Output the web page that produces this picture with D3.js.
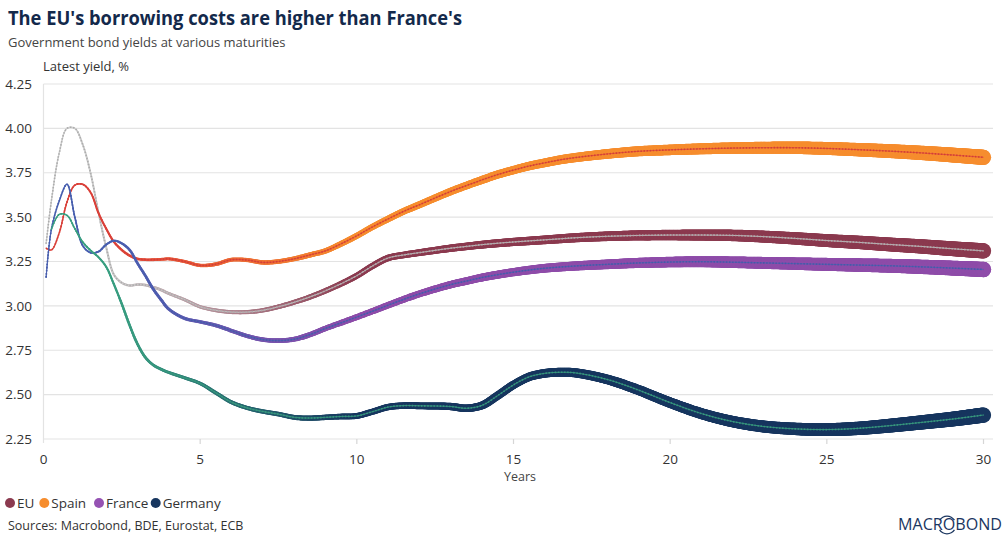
<!DOCTYPE html>
<html><head><meta charset="utf-8">
<script src="https://cdn.jsdelivr.net/npm/d3@7"></script>
<style>body{margin:0;background:#fff;} svg{display:block;font-family:"Open Sans",sans-serif;}</style>
</head><body><svg id="c" width="1008" height="542"></svg>
<script>
const maturities = [0.083,0.25,0.5,0.75,1,1.25,1.5,1.75,2,2.25,2.5,2.75,3,3.25,3.5,3.75,4,4.5,5,5.5,6,6.5,7,7.5,8,8.5,9,9.5,10,10.5,11,11.5,12,13,13.5,14,14.5,15,15.5,16,16.5,17,18,19,20,21,22,23,24,25,26,27,28,29,30];
const euYields = [3.35,3.59,3.86,4.00,4.00,3.91,3.75,3.53,3.33,3.175,3.13,3.115,3.12,3.117,3.105,3.09,3.07,3.035,2.995,2.975,2.965,2.965,2.975,2.995,3.02,3.05,3.085,3.125,3.17,3.225,3.27,3.287,3.30,3.325,3.335,3.345,3.353,3.36,3.366,3.372,3.378,3.384,3.392,3.397,3.399,3.399,3.397,3.39,3.38,3.368,3.358,3.346,3.335,3.322,3.31];
const spainYields = [3.325,3.315,3.41,3.585,3.68,3.685,3.64,3.525,3.435,3.36,3.315,3.283,3.265,3.26,3.26,3.262,3.265,3.25,3.228,3.235,3.26,3.258,3.245,3.25,3.265,3.287,3.31,3.35,3.395,3.445,3.49,3.533,3.57,3.645,3.678,3.71,3.74,3.765,3.788,3.806,3.823,3.836,3.856,3.871,3.879,3.885,3.889,3.891,3.891,3.887,3.88,3.872,3.862,3.85,3.837];
const franceYields = [3.16,3.43,3.59,3.685,3.50,3.34,3.30,3.305,3.345,3.367,3.352,3.315,3.24,3.17,3.095,3.035,2.982,2.93,2.91,2.89,2.86,2.83,2.81,2.804,2.812,2.838,2.873,2.905,2.937,2.97,3.004,3.037,3.068,3.12,3.14,3.16,3.176,3.19,3.202,3.212,3.219,3.225,3.234,3.242,3.247,3.249,3.246,3.242,3.238,3.234,3.23,3.226,3.22,3.213,3.205];
const germanyYields = [null,3.43,3.515,3.51,3.435,3.36,3.313,3.275,3.22,3.12,3.01,2.89,2.785,2.71,2.667,2.643,2.625,2.595,2.563,2.51,2.457,2.425,2.405,2.39,2.372,2.368,2.372,2.377,2.38,2.404,2.43,2.438,2.437,2.433,2.423,2.44,2.495,2.555,2.60,2.62,2.626,2.622,2.585,2.525,2.455,2.393,2.348,2.32,2.307,2.303,2.31,2.325,2.343,2.362,2.385];
const seriesNames = ["EU","Spain","France","Germany"];
const yTicks = [2.25,2.50,2.75,3.00,3.25,3.50,3.75,4.00,4.25];
const xTicks = [0,5,10,15,20,25,30];

const mainColors = ["#8b3a4f","#f68d2e","#8e4ca9","#17365f"];
const accentColors = ["#cfcfcf","#e0443c","#4a62b4","#3ba384"];
const legendColors = ["#8b3a4f","#f68d2e","#9552b3","#17365f"];
const allValues = [euYields, spainYields, franceYields, germanyYields];

const svg = d3.select("#c");
const x = d3.scaleLinear().domain([0,30]).range([43.5,983.5]);
const y = d3.scaleLinear().domain([2.25,4.25]).range([439,84]);

// grid
svg.append("g").selectAll("line").data(yTicks).join("line")
  .attr("x1",43.5).attr("x2",993).attr("y1",d=>y(d)).attr("y2",d=>y(d))
  .attr("stroke","#e3e3e3").attr("stroke-width",1.2);
svg.append("line").attr("x1",43.5).attr("x2",43.5).attr("y1",y(4.25)).attr("y2",y(2.25)+4)
  .attr("stroke","#e3e3e3").attr("stroke-width",1.2);
svg.append("g").selectAll("line").data(xTicks.slice(1)).join("line")
  .attr("x1",d=>x(d)).attr("x2",d=>x(d)).attr("y1",y(2.25)).attr("y2",y(2.25)+5)
  .attr("stroke","#d6d6d6").attr("stroke-width",1.2);

// y tick labels
svg.append("g").selectAll("text").data(yTicks).join("text")
  .attr("x",32).attr("y",d=>y(d)).attr("dy","0.35em").attr("text-anchor","end")
  .attr("font-size",13.5).attr("fill","#333").text(d=>d.toFixed(2));
// x tick labels
svg.append("g").selectAll("text").data(xTicks).join("text")
  .attr("x",d=>x(d)).attr("y",464).attr("text-anchor","middle")
  .attr("font-size",13.5).attr("fill","#333").text(d=>d);
svg.append("text").attr("x",520).attr("y",481).attr("text-anchor","middle")
  .attr("font-size",12.5).attr("fill","#444").text("Years");

// titles
svg.append("text").attr("x",8).attr("y",25).attr("font-size",19).attr("font-weight",700)
  .attr("fill","#13294b").attr("textLength",454).attr("lengthAdjust","spacingAndGlyphs")
  .text("The EU's borrowing costs are higher than France's");
svg.append("text").attr("x",8).attr("y",47).attr("font-size",13).attr("fill","#444")
  .text("Government bond yields at various maturities");
svg.append("text").attr("x",43).attr("y",71).attr("font-size",13).attr("fill","#333")
  .text("Latest yield, %");

// series
const line = d3.line().defined(d=>d[1]!=null)
  .x(d=>x(d[0])).y(d=>y(d[1])).curve(d3.curveCatmullRom.alpha(0.5));
const plot = svg.append("g");
allValues.forEach((vals,i)=>{
  const pts = maturities.map((m,j)=>[m,vals[j]]).filter(d=>d[1]!=null);
  const g = plot.append("g");
  const p = g.append("path").attr("d",line(pts)).attr("fill","none").attr("stroke","none");
  const node = p.node();
  const L = node.getTotalLength();
  const col = d3.interpolateRgb(accentColors[i], mainColors[i]);
  const samples = [];
  for (let s=0; s<=L; s+=0.8) samples.push(node.getPointAtLength(s));
  samples.push(node.getPointAtLength(L));
  g.selectAll("circle.band").data(samples).join("circle").attr("class","band")
    .attr("cx",d=>d.x).attr("cy",d=>d.y)
    .attr("r",d=>{const t=x.invert(d.x); return 0.6+0.235*t;})
    .attr("fill",d=>{const t=x.invert(d.x); return col(Math.max(0,Math.min(1,(t-2)/8)));});
  g.append("path").attr("d",line(pts)).attr("fill","none")
    .attr("stroke",accentColors[i]).attr("stroke-width",0.8);
  g.append("path").attr("d",line(pts)).attr("fill","none")
    .attr("stroke",d3.color(accentColors[i]).darker(i===0?0.5:0.2)).attr("stroke-width",1.6)
    .attr("stroke-dasharray","1.5,1.6");
});

// legend
const lg = svg.append("g");
const legendX = [10,44.3,99,155.7];
seriesNames.forEach((n,i)=>{
  lg.append("circle").attr("cx",legendX[i]).attr("cy",503).attr("r",5).attr("fill",legendColors[i]);
  lg.append("text").attr("x",legendX[i]+7).attr("y",503).attr("dy","0.35em")
    .attr("font-size",13.5).attr("fill","#333").text(n);
});
svg.append("text").attr("x",8).attr("y",530).attr("font-size",12.5).attr("fill","#333")
  .text("Sources: Macrobond, BDE, Eurostat, ECB");

// logo
const logo = svg.append("g");
logo.append("text").attr("x",898).attr("y",530).attr("font-size",15.5).attr("font-weight",500)
  .attr("fill","#1b365f").attr("textLength",104).attr("lengthAdjust","spacingAndGlyphs").text("MACROBOND");
const arc = d3.arc().innerRadius(8.2).outerRadius(9.5);
logo.append("path").attr("transform","translate(947,525)")
  .attr("d",arc({startAngle:-1.0,endAngle:1.0})).attr("fill","#1b365f");
logo.append("path").attr("transform","translate(947,525)")
  .attr("d",arc({startAngle:Math.PI-1.0,endAngle:Math.PI+1.0})).attr("fill","#1b365f");
</script>
</body></html>
